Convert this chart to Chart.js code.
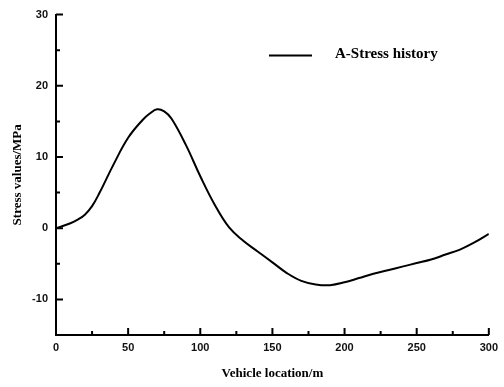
<!DOCTYPE html>
<html>
<head>
<meta charset="utf-8">
<script src="https://cdn.jsdelivr.net/npm/chart.js@4.4.1/dist/chart.umd.min.js"></script>
<style>
  html, body { margin: 0; padding: 0; background: #fff; }
  #wrap { width: 504px; height: 387px; }
</style>
</head>
<body>
<div id="wrap"><canvas id="stressChart"></canvas></div>
<script>
// Vehicle location (m) and stress values (MPa)
const locations = [0, 10, 15, 20, 25, 30, 40, 50, 60, 65, 70, 75, 80, 90, 100, 110, 120, 130, 140, 150,
                   160, 170, 180, 190, 200, 210, 220, 230, 240, 250, 260, 270, 280, 290, 300];
const stressA = [0, 0.7, 1.2, 1.9, 3.1, 4.9, 9.0, 12.7, 15.2, 16.1, 16.7, 16.4, 15.4, 11.7, 7.3, 3.3, 0.1, -1.8, -3.3, -4.8,
                 -6.3, -7.4, -7.9, -8.0, -7.6, -7.0, -6.4, -5.9, -5.4, -4.9, -4.4, -3.7, -3.0, -2.0, -0.8];

// tick labels and minor tick positions
const xTicks = [0, 50, 100, 150, 200, 250, 300];
const xMinor = [25, 75, 125, 175, 225, 275];
const yTicks = [-10, 0, 10, 20, 30];
const yMinor = [-5, 5, 15, 25];

const seriesLabel = 'A-Stress history';

// Origin-style ticks pointing into the plot + legend inside the plot
const innerTicks = {
  id: 'innerTicks',
  afterDraw(chart) {
    const ctx = chart.ctx;
    const x = chart.scales.x, y = chart.scales.y;
    const area = chart.chartArea;
    ctx.save();
    ctx.strokeStyle = '#000';
    ctx.lineWidth = 2;
    ctx.beginPath();
    xTicks.forEach(v => { const px = x.getPixelForValue(v); ctx.moveTo(px, area.bottom); ctx.lineTo(px, area.bottom - 7); });
    xMinor.forEach(v => { const px = x.getPixelForValue(v); ctx.moveTo(px, area.bottom); ctx.lineTo(px, area.bottom - 4); });
    yTicks.forEach(v => { const py = y.getPixelForValue(v); ctx.moveTo(area.left, py); ctx.lineTo(area.left + 7, py); });
    yMinor.forEach(v => { const py = y.getPixelForValue(v); ctx.moveTo(area.left, py); ctx.lineTo(area.left + 4, py); });
    ctx.stroke();

    // legend
    const ly = area.top + 41;
    ctx.beginPath();
    ctx.moveTo(area.left + 213, ly);
    ctx.lineTo(area.left + 256, ly);
    ctx.stroke();
    ctx.fillStyle = '#000';
    ctx.font = 'bold 15px "Liberation Serif", "Times New Roman", serif';
    ctx.textBaseline = 'middle';
    ctx.textAlign = 'left';
    ctx.fillText(chart.data.datasets[0].label, area.left + 279, ly - 1);
    ctx.restore();
  }
};

const tickFont = { family: '"Liberation Sans", Arial, sans-serif', size: 11, weight: 'bold' };
const titleFont = { family: '"Liberation Serif", "Times New Roman", serif', size: 13, weight: 'bold' };

new Chart(document.getElementById('stressChart'), {
  type: 'line',
  data: {
    datasets: [{
      label: seriesLabel,
      data: locations.map((loc, i) => ({ x: loc, y: stressA[i] })),
      borderColor: '#000',
      borderWidth: 2,
      pointRadius: 0,
      fill: false,
      tension: 0.4
    }]
  },
  options: {
    responsive: true,
    maintainAspectRatio: false,
    animation: false,
    layout: { padding: { top: 11, right: 15, left: 0, bottom: 0 } },
    plugins: {
      legend: { display: false },
      tooltip: { enabled: false }
    },
    scales: {
      x: {
        type: 'linear',
        min: 0,
        max: 300,
        afterBuildTicks: s => { s.ticks = xTicks.map(v => ({ value: v })); },
        afterFit: s => { s.height = 52; },
        grid: { display: false, drawTicks: false },
        border: { display: true, color: '#000', width: 2 },
        ticks: { font: tickFont, color: '#111', padding: 6, maxRotation: 0 },
        title: { display: true, text: 'Vehicle location/m', font: titleFont, color: '#000', padding: { top: 0, bottom: 6 } }
      },
      y: {
        type: 'linear',
        min: -15,
        max: 30,
        afterBuildTicks: s => { s.ticks = yTicks.map(v => ({ value: v })); },
        afterFit: s => { s.width = 56; },
        grid: { display: false, drawTicks: false },
        border: { display: true, color: '#000', width: 2 },
        ticks: { font: tickFont, color: '#111', padding: 8 },
        title: { display: true, text: 'Stress values/MPa', font: titleFont, color: '#000', padding: { top: 10, bottom: 0 } }
      }
    }
  },
  plugins: [innerTicks]
});
</script>
</body>
</html>
